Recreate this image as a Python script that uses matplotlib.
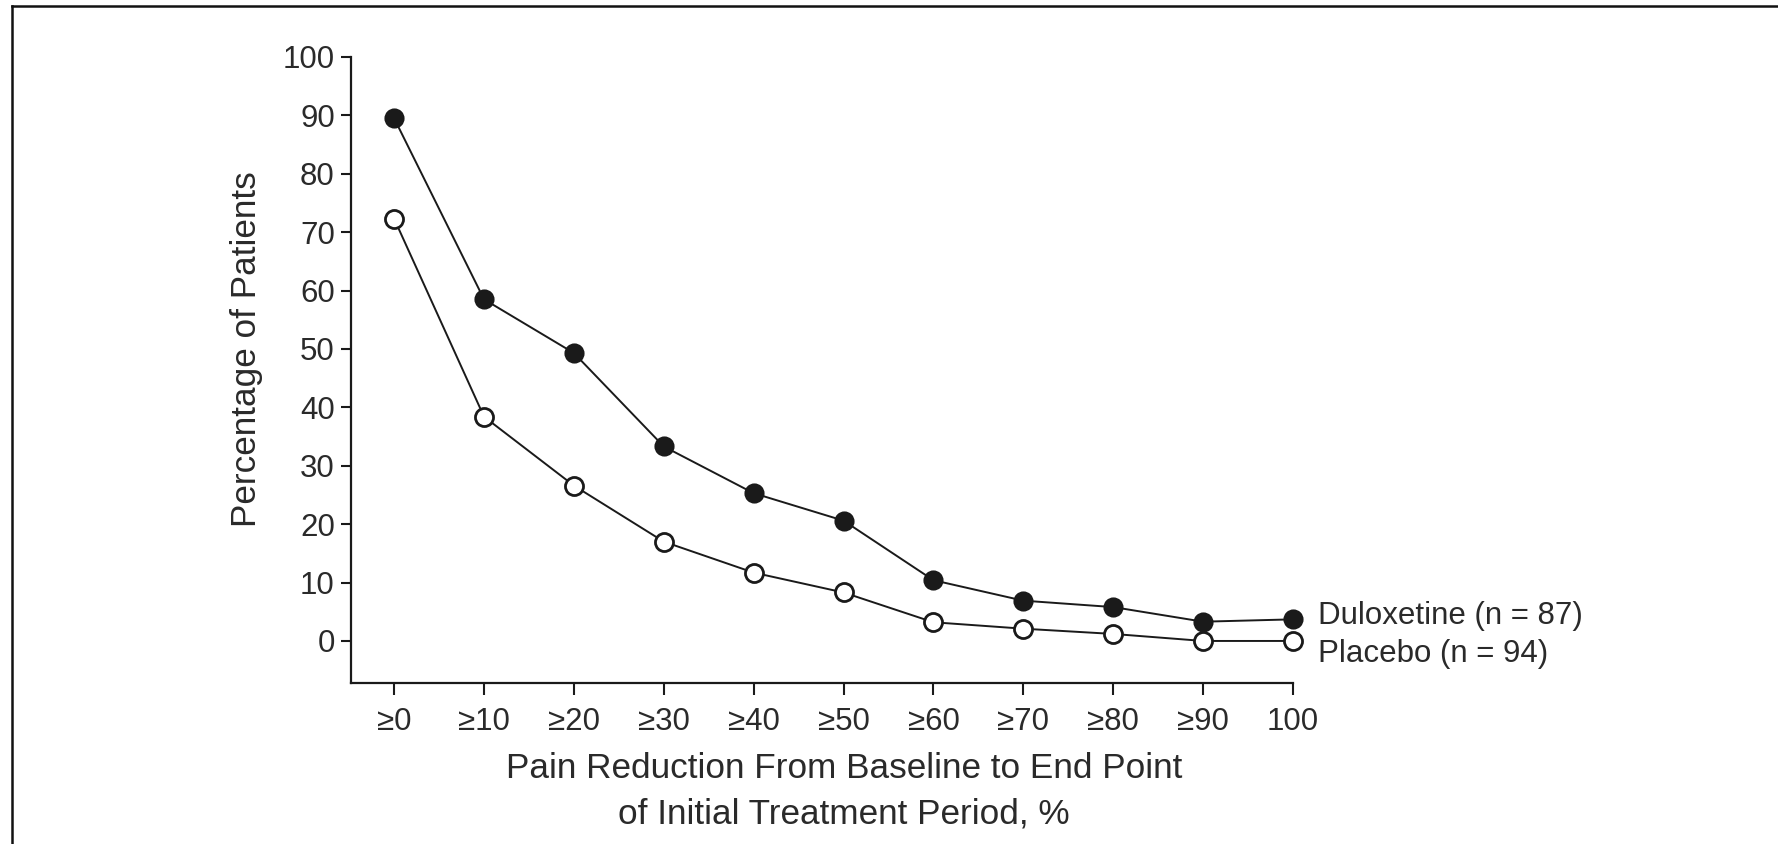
import matplotlib
matplotlib.use("Agg")
import matplotlib.pyplot as plt
from matplotlib.lines import Line2D

categories = ["≥0", "≥10", "≥20", "≥30", "≥40", "≥50", "≥60", "≥70", "≥80", "≥90", "100"]
duloxetine = [89.5, 58.5, 49.3, 33.3, 25.3, 20.6, 10.4, 6.9, 5.8, 3.3, 3.7]
placebo = [72.3, 38.4, 26.6, 17.0, 11.7, 8.3, 3.2, 2.1, 1.2, 0.0, 0.0]
yticks = [0, 10, 20, 30, 40, 50, 60, 70, 80, 90, 100]
series_labels = ["Duloxetine (n = 87)", "Placebo (n = 94)"]

plt.rcParams['font.family'] = ['Liberation Sans', 'DejaVu Sans']
W, H = 1778, 844
fig = plt.figure(figsize=(W / 100, H / 100), dpi=100)
L, R, T, B = 351, 1293, 57, 683
ax = fig.add_axes([L / W, 1 - B / H, (R - L) / W, (B - T) / H])

x = list(range(len(categories)))
ink = '#1a1a1a'
txt = '#2a2a2a'
FS = 22.5
LFS = 25.3
ax.plot(x, duloxetine, '-o', color=ink, lw=1.4, ms=13, mfc=ink, mec=ink, mew=1.5,
        zorder=3, clip_on=False)
ax.plot(x, placebo, '-o', color=ink, lw=1.4, ms=13, mfc='white', mec=ink, mew=2.0,
        zorder=3, clip_on=False)

ax.set_xlim(-0.48, 10)
ax.set_ylim(-7.2, 100)
ax.set_xticks(x)
ax.set_xticklabels(categories, fontsize=FS)
ax.set_yticks(yticks)
ax.set_yticklabels([str(v) for v in yticks], fontsize=FS)
for s in ['top', 'right']:
    ax.spines[s].set_visible(False)
ax.spines['left'].set_bounds(-7.2, 100)
for s in ['left', 'bottom']:
    ax.spines[s].set_linewidth(1.6)
    ax.spines[s].set_color(ink)
ax.tick_params(axis='both', width=1.5, color=ink, labelcolor=txt)
ax.tick_params(axis='x', length=8.6, pad=8.5)
ax.tick_params(axis='y', length=7.2, pad=4.5)

ax.set_ylabel("Percentage of Patients", fontsize=LFS, color=txt)
ax.yaxis.set_label_coords((263 - L) / (R - L), (B - 349) / (B - T))
ax.set_xlabel("Pain Reduction From Baseline to End Point\nof Initial Treatment Period, %",
              fontsize=LFS, color=txt, linespacing=1.47)
ax.xaxis.set_label_coords((844 - L) / (R - L), -(752 - B) / (B - T))
ax.xaxis.label.set_va('top')

ax.annotate(series_labels[0], xy=(x[-1], duloxetine[-1]), xytext=(18, -3.2),
            textcoords='offset points', fontsize=FS, color=txt,
            va='baseline', ha='left', annotation_clip=False)
ax.annotate(series_labels[1], xy=(x[-1], placebo[-1]), xytext=(18, -15),
            textcoords='offset points', fontsize=FS, color=txt,
            va='baseline', ha='left', annotation_clip=False)

# outer frame (top and left edges)
fig.add_artist(Line2D([12 / W, 1], [1 - 6 / H, 1 - 6 / H], color='#111111', lw=1.8))
fig.add_artist(Line2D([12 / W, 12 / W], [1 - 6 / H, 0], color='#111111', lw=1.8))

fig.savefig("out.png", dpi=100)
